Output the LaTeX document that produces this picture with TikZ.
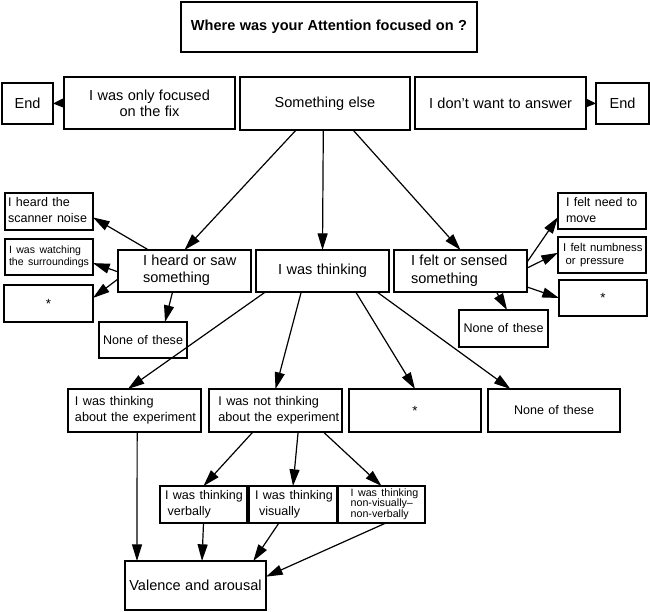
\documentclass[tikz,border=0pt]{standalone}
\usepackage{fontspec}
\setmainfont{Liberation Sans}
\usetikzlibrary{arrows.meta,calc}
\tikzset{
  bxs/.style={draw, line width=1.1pt, inner xsep=0pt, inner ysep=0pt, outer sep=0pt},
  ar/.style={line width=0.9pt, -{Triangle[length=12.5pt,width=7.5pt]}},
  arS/.style={line width=0.9pt, -{Triangle[length=7.5pt,width=6.5pt]}},
}
\newcommand\fsz[2]{\fontsize{#1}{#2}\selectfont}
% name x1 y1 x2 y2 align text
\newcommand\bx[7]{%
  \pgfmathsetmacro\bxw{(#4-#2)*0.75}%
  \pgfmathsetmacro\bxh{(#5-#3)*0.75}%
  \node[bxs, minimum width=\bxw pt, minimum height=\bxh pt, text width=\bxw pt, align=#6]
    (#1) at ({(#2+#4)/2},{(#3+#5)/2}) {#7};%
}
% left-aligned block with a left pad
\newcommand\LT[2]{\hspace*{#1}\begin{tabular}{@{}l@{}}#2\end{tabular}}
\newcommand\PB[2]{($(#1.south west)!#2!(#1.south east)$)}
\newcommand\PT[2]{($(#1.north west)!#2!(#1.north east)$)}
\newcommand\PL[2]{($(#1.north west)!#2!(#1.south west)$)}
\newcommand\PR[2]{($(#1.north east)!#2!(#1.south east)$)}
\begin{document}
\begin{tikzpicture}[x=0.75pt,y=-0.75pt]
\useasboundingbox (0,0) rectangle (650,611);
% top
\bx{title}{181}{2}{477}{52}{center}{\fsz{10.9}{13}\bfseries Where was your Attention focused on ?}
\bx{endl}{2}{83}{53}{124}{center}{\fsz{10.9}{13}End}
\bx{fix}{64}{77}{235}{129}{center}{\fsz{10.9}{13}I was only focused\\on the fix}
\bx{se}{240}{77}{410}{130}{center}{\fsz{10.9}{13}Something else}
\bx{dw}{415}{77}{586}{129}{center}{\fsz{10.9}{13}I don't want to answer}
\bx{endr}{596}{83}{649}{124}{center}{\fsz{10.9}{13}End}
% second level
\bx{scan}{5}{193}{93}{230}{left}{\fsz{9.4}{11.3}\LT{2.25pt}{I heard the\\scanner noise}}
\bx{watch}{5}{239}{93}{275}{left}{\fsz{7.9}{9.3}\LT{3pt}{I was watching\\the surroundings}}
\bx{stl}{4}{285}{93}{322}{center}{\fsz{10}{12}*}
\bx{heard}{118}{250}{251}{292}{left}{\fsz{10.9}{12.6}\LT{18.75pt}{I heard or saw\\something}}
\bx{nonel}{99}{322}{187}{358}{center}{\fsz{9.4}{11}None of these}
\bx{think}{256}{250}{389}{292}{center}{\fsz{10.9}{13}I was thinking}
\bx{felt}{394}{250}{527}{292}{left}{\fsz{10.9}{13}\LT{12.75pt}{I felt or sensed\\something}}
\bx{move}{558}{193}{646}{229}{left}{\fsz{9.3}{12}\LT{6pt}{I felt need to\\move}}
\bx{numb}{558}{237}{646}{273}{left}{\fsz{8.5}{10}\LT{3.75pt}{I felt numbness\\\hspace*{2pt}or pressure}}
\bx{str}{559}{280}{647}{316}{center}{\fsz{10}{12}*}
\bx{noner}{459}{310}{548}{347}{center}{\fsz{9.4}{11}None of these}
% third level
\bx{about}{68}{389}{201}{432}{left}{\fsz{9.5}{12}\LT{5.25pt}{I was thinking\\about the experiment}}
\bx{notab}{209}{389}{342}{432}{left}{\fsz{9.5}{12}\LT{7pt}{I was not thinking\\about the experiment}}
\bx{stm}{349}{389}{481}{432}{center}{\fsz{10}{12}*}
\bx{nonem}{488}{389}{620}{432}{center}{\fsz{9.4}{11}None of these}
% fourth level
\bx{verb}{160}{486}{247}{523}{left}{\fsz{9.4}{11.7}\LT{3.75pt}{I was thinking\\\hspace*{2pt}verbally}}
\bx{vis}{249}{486}{337}{523}{left}{\fsz{9.4}{11.7}\LT{4.5pt}{I was thinking\\\hspace*{3pt}visually}}
\bx{nvv}{338}{486}{425}{523}{left}{\fsz{8}{7.6}\LT{9.5pt}{I was thinking\\non-visually–\\non-verbally}}
\bx{val}{125}{561}{266}{610}{center}{\fsz{10.9}{13}Valence and arousal}
% connectors
\draw[arS] (fix.west) -- (endl.east);
\draw[arS] (dw.east) -- (endr.west);
\draw[ar] \PB{se}{0.33} -- (heard.north);
\draw[ar] \PB{se}{0.49} -- (think.north);
\draw[ar] \PB{se}{0.665} -- (felt.north);
\draw[ar] \PT{heard}{0.23} -- \PR{scan}{0.66};
\draw[ar] \PL{heard}{0.52} -- \PR{watch}{0.67};
\draw[ar] \PL{heard}{0.69} -- \PR{stl}{0.35};
\draw[ar] \PB{heard}{0.41} -- \PT{nonel}{0.75};
\draw[ar] \PR{felt}{0.29} -- \PL{move}{0.67};
\draw[ar] \PR{felt}{0.43} -- \PL{numb}{0.44};
\draw[ar] \PR{felt}{0.88} -- \PL{str}{0.5};
\draw[ar] \PB{felt}{0.77} -- \PT{noner}{0.54};
\draw[ar] \PB{think}{0.07} -- \PT{about}{0.45};
\draw[ar] \PB{think}{0.34} -- (notab.north);
\draw[ar] \PB{think}{0.75} -- (stm.north);
\draw[ar] \PB{think}{0.91} -- \PT{nonem}{0.17};
\draw[ar] \PB{notab}{0.33} -- (verb.north);
\draw[ar] \PB{notab}{0.67} -- (vis.north);
\draw[ar] \PB{notab}{0.86} -- (nvv.north);
\draw[ar] \PB{about}{0.52} -- \PT{val}{0.085};
\draw[ar] (verb.south) -- \PT{val}{0.546};
\draw[ar] \PB{vis}{0.34} -- \PT{val}{0.91};
\draw[ar] \PB{nvv}{0.55} -- \PR{val}{0.32};
\end{tikzpicture}
\end{document}
